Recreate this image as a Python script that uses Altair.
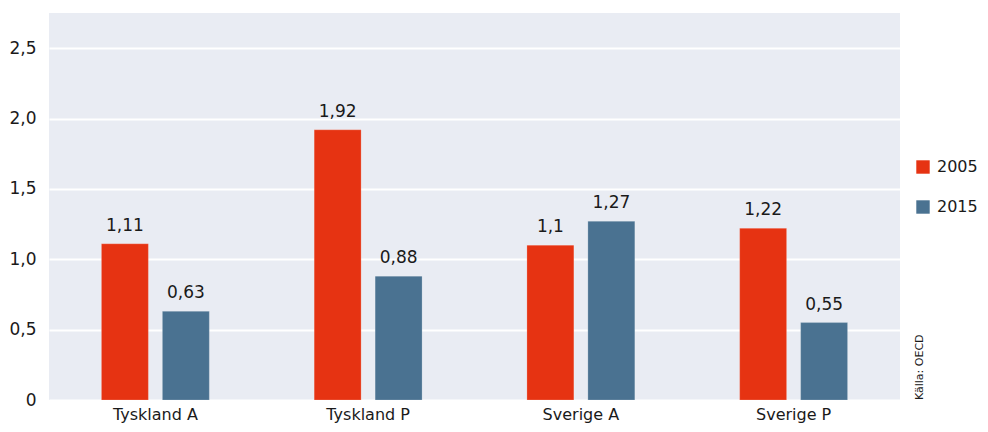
import altair as alt
import pandas as pd

categories = ["Tyskland A", "Tyskland P", "Sverige A", "Sverige P"]
years = ["2005", "2015"]
values_2005 = [1.11, 1.92, 1.10, 1.22]
values_2015 = [0.63, 0.88, 1.27, 0.55]
y_ticks = [0, 0.5, 1.0, 1.5, 2.0, 2.5]

rows = []
for c, a, b in zip(categories, values_2005, values_2015):
    for yr, v in (("2005", a), ("2015", b)):
        lbl = ("%g" % v).replace(".", ",")
        rows.append({"kategori": c, "år": yr, "värde": v, "etikett": lbl})
df = pd.DataFrame(rows)

FONT = "DejaVu Sans"
RED = "#E63312"
BLUE = "#4A7291"

base = alt.Chart(df).encode(
    x=alt.X("kategori:N", sort=categories, title=None,
            scale=alt.Scale(paddingInner=0, paddingOuter=0),
            axis=alt.Axis(labelAngle=0, domain=False, ticks=False, labelPadding=6,
                          labelFontSize=16, labelFont=FONT, labelColor="#1a1a1a")),
    xOffset=alt.XOffset("år:N", sort=years,
                        scale=alt.Scale(paddingInner=0.23, paddingOuter=0.86)),
)

bars = base.mark_bar(stroke="white", strokeWidth=0.5, strokeOpacity=0.4).encode(
    y=alt.Y("värde:Q", title=None,
            scale=alt.Scale(domain=[0, 2.75], nice=False),
            axis=alt.Axis(values=y_ticks, domain=False, ticks=False, labelPadding=13,
                          labelFontSize=17, labelFont=FONT, labelColor="#1a1a1a",
                          gridColor="white", gridWidth=2,
                          labelExpr="datum.value == 0 ? '0' : replace(format(datum.value, '.1f'), '.', ',')")),
    color=alt.Color("år:N", sort=years,
                    scale=alt.Scale(domain=years, range=[RED, BLUE]),
                    legend=alt.Legend(title=None, orient="none", legendX=866, legendY=146,
                                      symbolType="square", symbolSize=180, symbolStrokeWidth=0,
                                      labelFontSize=16, labelFont=FONT, labelColor="#1a1a1a",
                                      rowPadding=24, labelOffset=6)),
)

labels = base.mark_text(baseline="bottom", dy=-9, fontSize=17, font=FONT, color="#1a1a1a").encode(
    y=alt.Y("värde:Q"),
    text="etikett:N",
)

source = alt.Chart(pd.DataFrame({"t": ["Källa: OECD"]})).mark_text(
    angle=270, align="left", baseline="middle", fontSize=11, font=FONT, color="#1a1a1a"
).encode(x=alt.value(871), y=alt.value(387), text="t:N")

chart = alt.layer(bars, labels, source).properties(
    width=851, height=387,
    padding={"left": 41, "top": 5, "right": 80, "bottom": 24},
    autosize=alt.AutoSizeParams(type="none"),
).configure_view(fill="#E9ECF3", stroke=None).configure_axis(grid=True)
chart = chart.configure_axisX(grid=False)

chart.save("out.html", embed_options={"renderer": "svg", "actions": False})
